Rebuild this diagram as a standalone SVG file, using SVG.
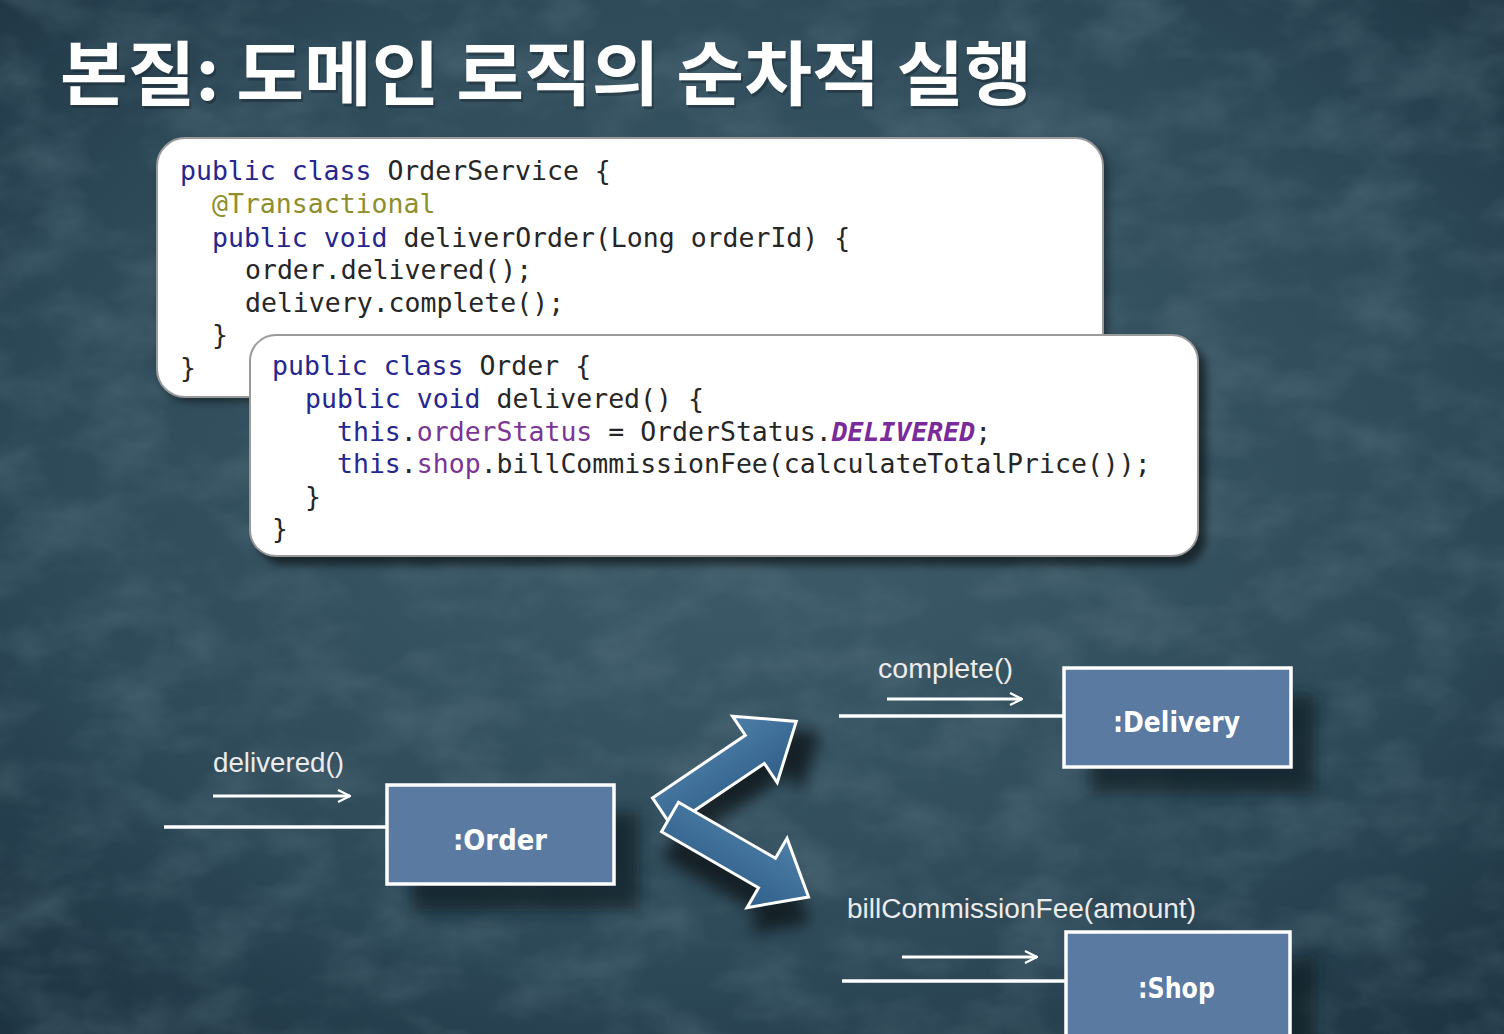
<svg xmlns="http://www.w3.org/2000/svg" width="1504" height="1034" viewBox="0 0 1504 1034">
<defs>
  <radialGradient id="bg" cx="0.5" cy="0.45" r="0.75">
    <stop offset="0" stop-color="#3f5d6b"/>
    <stop offset="0.6" stop-color="#2f4b5a"/>
    <stop offset="1" stop-color="#1c3240"/>
  </radialGradient>
  <filter id="grunge" x="0" y="0" width="100%" height="100%">
    <feTurbulence type="fractalNoise" baseFrequency="0.012 0.02" numOctaves="4" seed="7" result="n"/>
    <feColorMatrix in="n" type="matrix" values="0 0 0 0 0.12  0 0 0 0 0.2  0 0 0 0 0.25  0 0 0 1.4 -0.55"/>
  </filter>
  <filter id="blur" x="-30%" y="-30%" width="160%" height="160%">
    <feGaussianBlur stdDeviation="8"/>
  </filter>
  <filter id="soft" x="-10%" y="-10%" width="120%" height="130%">
    <feGaussianBlur stdDeviation="4"/>
  </filter>
  <linearGradient id="arrowFill" x1="0" y1="0" x2="0" y2="1">
    <stop offset="0" stop-color="#4e7fa8"/>
    <stop offset="1" stop-color="#2f5f88"/>
  </linearGradient>
  <marker id="open" viewBox="0 0 14 14" refX="13" refY="7" markerWidth="14" markerHeight="14" markerUnits="userSpaceOnUse" orient="auto">
    <path d="M1,1 L13,7 L1,13" fill="none" stroke="#ffffff" stroke-width="2.2"/>
  </marker>
  <style>
    .code { font-family: "DejaVu Sans Mono", "Liberation Mono", monospace; font-size: 26.5px; fill: #262626; }
    .kw { fill: #26268f; }
    .an { fill: #8e8e2c; }
    .fd { fill: #7a3596; }
    .en { fill: #7a2a9a; font-style: italic; font-weight: bold; }
    .box { fill: #5a7aa2; stroke: #ffffff; stroke-width: 3.5; }
    .boxlabel { font-family: "DejaVu Sans", "Noto Sans", sans-serif; font-weight: bold; font-size: 29px; fill: #ffffff; }
    .msg { font-family: "Liberation Sans", "Noto Sans", sans-serif; font-size: 27px; fill: #ececec; }
    .wire { stroke: #ffffff; stroke-width: 3.5; fill: none; }
    .marrow { stroke: #ffffff; stroke-width: 2.8; fill: none; marker-end: url(#open); }
    .card { fill: #ffffff; stroke: #9a9a9a; stroke-width: 2; }
    .big { fill: url(#arrowFill); stroke: #ffffff; stroke-width: 3; stroke-linejoin: miter; }
  </style>
</defs>

<!-- background -->
<rect x="0" y="0" width="1504" height="1034" fill="url(#bg)"/>
<rect x="0" y="0" width="1504" height="1034" filter="url(#grunge)" opacity="0.55"/>

<!-- title -->
<text x="60" y="100" font-family="Noto Sans CJK KR, sans-serif" font-weight="bold" font-size="70" fill="#1a2a33" opacity="0.5" textLength="972" lengthAdjust="spacingAndGlyphs" transform="translate(2,3)">본질: 도메인 로직의 순차적 실행</text>
<text x="60" y="100" font-family="Noto Sans CJK KR, sans-serif" font-weight="bold" font-size="70" fill="#ffffff" textLength="972" lengthAdjust="spacingAndGlyphs">본질: 도메인 로직의 순차적 실행</text>

<!-- code card: OrderService -->
<g id="orderservice-code">
  <rect x="161" y="144" width="946" height="258" rx="28" fill="#000" opacity="0.45" filter="url(#soft)"/>
  <rect class="card" x="157" y="138" width="946" height="259" rx="28"/>
  <text class="code" x="180" y="180"><tspan class="kw">public class</tspan> OrderService {</text>
  <text class="code an" x="212" y="213">@Transactional</text>
  <text class="code" x="212" y="247"><tspan class="kw">public void</tspan> deliverOrder(Long orderId) {</text>
  <text class="code" x="245" y="279">order.delivered();</text>
  <text class="code" x="245" y="312">delivery.complete();</text>
  <text class="code" x="212" y="344">}</text>
  <text class="code" x="180" y="377">}</text>
</g>

<!-- code card: Order -->
<g id="order-code">
  <rect x="258" y="343" width="948" height="222" rx="26" fill="#000" opacity="0.55" filter="url(#soft)"/>
  <rect class="card" x="250" y="335" width="948" height="221" rx="26"/>
  <text class="code" x="272" y="375"><tspan class="kw">public class</tspan> Order {</text>
  <text class="code" x="305" y="408"><tspan class="kw">public void</tspan> delivered() {</text>
  <text class="code" x="337" y="441"><tspan class="kw">this</tspan>.<tspan class="fd">orderStatus</tspan> = OrderStatus.<tspan class="en">DELIVERED</tspan>;</text>
  <text class="code" x="337" y="473"><tspan class="kw">this</tspan>.<tspan class="fd">shop</tspan>.billCommissionFee(calculateTotalPrice());</text>
  <text class="code" x="305" y="506">}</text>
  <text class="code" x="272" y="538">}</text>
</g>

<!-- connectors -->
<g id="connectors">
  <line class="wire" x1="164" y1="827" x2="387" y2="827"/>
  <line class="marrow" x1="213" y1="796" x2="350" y2="796"/>
  <text class="msg" x="213" y="772" textLength="131" lengthAdjust="spacingAndGlyphs">delivered()</text>

  <line class="wire" x1="839" y1="716" x2="1064" y2="716"/>
  <line class="marrow" x1="887" y1="699" x2="1022" y2="699"/>
  <text class="msg" x="878" y="678" textLength="135" lengthAdjust="spacingAndGlyphs">complete()</text>

  <line class="wire" x1="842" y1="981" x2="1066" y2="981"/>
  <line class="marrow" x1="902" y1="957" x2="1037" y2="957"/>
  <text class="msg" x="847" y="918" textLength="349" lengthAdjust="spacingAndGlyphs">billCommissionFee(amount)</text>

  <!-- big block arrows -->
  <g transform="translate(662,812) rotate(-34)">
    <path d="M0,-17 L112,-17 L112,-40 L162,0 L112,40 L112,17 L0,17 Z" fill="#000" opacity="0.6" filter="url(#blur)" transform="translate(14,22)"/>
    <path class="big" d="M0,-17 L112,-17 L112,-40 L162,0 L112,40 L112,17 L0,17 Z"/>
  </g>
  <g transform="translate(670,817) rotate(30)">
    <path d="M0,-17 L112,-17 L112,-40 L160,0 L112,40 L112,17 L0,17 Z" fill="#000" opacity="0.6" filter="url(#blur)" transform="translate(14,22)"/>
    <path class="big" d="M0,-17 L112,-17 L112,-40 L160,0 L112,40 L112,17 L0,17 Z"/>
  </g>
</g>

<!-- nodes -->
<g id="order">
  <rect x="412" y="812" width="227" height="99" fill="#0d1a22" opacity="0.7" filter="url(#blur)"/>
  <rect class="box" x="387" y="785" width="227" height="99"/>
  <text class="boxlabel" x="453" y="850" textLength="94" lengthAdjust="spacingAndGlyphs">:Order</text>
</g>

<g id="delivery">
  <rect x="1089" y="695" width="227" height="99" fill="#0d1a22" opacity="0.7" filter="url(#blur)"/>
  <rect class="box" x="1064" y="668" width="227" height="99"/>
  <text class="boxlabel" x="1113" y="732" textLength="127" lengthAdjust="spacingAndGlyphs">:Delivery</text>
</g>

<g id="shop">
  <rect x="1091" y="958" width="224" height="99" fill="#0d1a22" opacity="0.7" filter="url(#blur)"/>
  <rect class="box" x="1066" y="932" width="224" height="110"/>
  <text class="boxlabel" x="1138" y="998" textLength="77" lengthAdjust="spacingAndGlyphs">:Shop</text>
</g>
</svg>
